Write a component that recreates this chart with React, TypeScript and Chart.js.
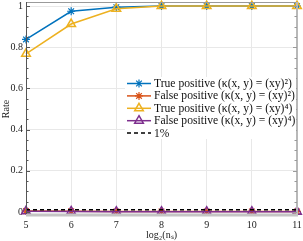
import React, { useEffect, useRef } from "react";
import { Chart, registerables } from "chart.js";
import { drawPoint } from "chart.js/helpers";

Chart.register(...registerables);

const nsLog = [5, 6, 7, 8, 9, 10, 11];
const tp2 = [0.838, 0.975, 0.995, 1, 1, 1, 1];
const fp2 = [0.004, 0.003, 0.002, 0.002, 0.002, 0.002, 0.002];
const tp4 = [0.768, 0.913, 0.987, 1, 1, 1, 1];
const fp4 = [0.003, 0.002, 0.001, 0.001, 0.001, 0.001, 0.001];
const onePct = [0.01, 0.01, 0.01, 0.01, 0.01, 0.01, 0.01];
const yTicks = [0, 0.2, 0.4, 0.6, 0.8, 1];
const labels = [
  "True positive (κ(x, y) = (xy)²)",
  "False positive (κ(x, y) = (xy)²)",
  "True positive (κ(x, y) = (xy)⁴)",
  "False positive (κ(x, y) = (xy)⁴)",
  "1%",
];

const BLUE = "#0072BD";
const ORANGE = "#D95319";
const YELLOW = "#EDB120";
const PURPLE = "#7E2F8E";
const FONT = "'Liberation Serif', serif";

const pts = (arr: number[]) => nsLog.map((x, i) => ({ x, y: arr[i] }));

const framePlugin = {
  id: "frame",
  afterDatasetsDraw(chart: any) {
    const { ctx, chartArea: a, scales } = chart;
    const y = scales.y;
    ctx.save();
    ctx.strokeStyle = "#9a9a9a";
    ctx.lineWidth = 1;
    ctx.beginPath();
    ctx.moveTo(a.left, a.top + 0.5);
    ctx.lineTo(a.right, a.top + 0.5);
    ctx.stroke();
    ctx.strokeStyle = "#b8b8b8";
    ctx.lineWidth = 2;
    ctx.beginPath();
    ctx.moveTo(a.right, a.top);
    ctx.lineTo(a.right, a.bottom);
    ctx.stroke();
    ctx.strokeStyle = "#c4c4c4";
    ctx.lineWidth = 3;
    ctx.beginPath();
    ctx.moveTo(a.left, a.bottom - 1);
    ctx.lineTo(a.right + 1, a.bottom - 1);
    ctx.stroke();
    ctx.strokeStyle = "#555";
    ctx.lineWidth = 1;
    ctx.beginPath();
    ctx.moveTo(a.left + 0.5, a.top);
    ctx.lineTo(a.left + 0.5, a.bottom - 2);
    ctx.stroke();
    for (let v = 0; v <= 1.0001; v += 0.05) {
      const py = Math.round(y.getPixelForValue(v)) + 0.5;
      const major = Math.abs(v * 5 - Math.round(v * 5)) < 1e-6;
      const len = major ? 4 : 2.5;
      ctx.strokeStyle = "#555";
      ctx.lineWidth = 1;
      ctx.beginPath();
      ctx.moveTo(a.left, py);
      ctx.lineTo(a.left + len, py);
      ctx.stroke();
      ctx.strokeStyle = "#9a9a9a";
      ctx.beginPath();
      ctx.moveTo(a.right, py);
      ctx.lineTo(a.right - len, py);
      ctx.stroke();
    }
    const lx = 125, ly = 77, lw = a.right - 1 - lx, lh = 62;
    ctx.fillStyle = "#fff";
    ctx.fillRect(lx, ly, lw, lh);
    const styles = [
      { c: BLUE, p: "star", r: 4, dash: [] as number[] },
      { c: ORANGE, p: "star", r: 4, dash: [] as number[] },
      { c: YELLOW, p: "triangle", r: 5, dash: [] as number[] },
      { c: PURPLE, p: "triangle", r: 5, dash: [] as number[] },
      { c: "#000", p: null, r: 0, dash: [4, 3] },
    ];
    ctx.font = `11.6px ${FONT}`;
    ctx.textBaseline = "middle";
    ctx.textAlign = "left";
    styles.forEach((s, i) => {
      const ry = 83.5 + i * 12.4;
      ctx.strokeStyle = s.c;
      ctx.lineWidth = 1.5;
      ctx.setLineDash(s.dash);
      ctx.beginPath();
      ctx.moveTo(127, ry);
      ctx.lineTo(151, ry);
      ctx.stroke();
      ctx.setLineDash([]);
      if (s.p) {
        ctx.fillStyle = "rgba(0,0,0,0)";
        ctx.lineWidth = s.p === "star" ? 1.2 : 1.5;
        drawPoint(ctx, { pointStyle: s.p, radius: s.r, borderWidth: ctx.lineWidth, rotation: 0 } as any, 139, ry);
      }
      ctx.fillStyle = "#111";
      ctx.fillText(labels[i], 154, ry + 0.5);
    });
    ctx.restore();
  },
};

export default function App() {
  const ref = useRef<HTMLCanvasElement>(null);
  useEffect(() => {
    document.body.style.margin = "0";
    const line = (label: string, data: number[], color: string, style: any, r: number, order: number, dash: number[] = []) => ({
      label,
      data: pts(data),
      borderColor: color,
      backgroundColor: "rgba(0,0,0,0)",
      pointBorderColor: color,
      pointBackgroundColor: "rgba(0,0,0,0)",
      pointStyle: style,
      pointRadius: r,
      pointBorderWidth: style === "star" ? 1.2 : 1.5,
      borderWidth: 1.5,
      borderDash: dash,
      tension: 0,
      clip: false,
      order,
    });
    const chart = new Chart(ref.current!, {
      type: "line",
      data: {
        datasets: [
          line(labels[0], tp2, BLUE, "star", 4, 5),
          line(labels[1], fp2, ORANGE, "star", 4, 4),
          line(labels[2], tp4, YELLOW, "triangle", 5, 3),
          line(labels[3], fp4, PURPLE, "triangle", 5, 2),
          line(labels[4], onePct, "#000", false, 0, 1, [4, 3]),
        ] as any,
      },
      plugins: [framePlugin],
      options: {
        animation: false,
        responsive: false,
        layout: { autoPadding: false, padding: { left: 0, right: 6, top: 2, bottom: 0 } },
        plugins: { legend: { display: false }, tooltip: { enabled: false } },
        scales: {
          x: {
            type: "linear",
            min: 5,
            max: 11,
            ticks: { stepSize: 1, color: "#222", font: { family: FONT, size: 10 }, padding: 3 },
            grid: { color: "#e8e8e8", drawTicks: false },
            border: { display: false },
            title: { display: true, text: "log₂(nₛ)", color: "#222", font: { family: FONT, size: 10 }, padding: { top: 0, bottom: 0 } },
            afterFit: (s: any) => { s.height = 25; s.paddingLeft = 0; s.paddingRight = 0; },
          },
          y: {
            type: "linear",
            min: -0.02,
            max: 1.02,
            afterBuildTicks: (s: any) => { s.ticks = yTicks.map((v) => ({ value: v })); },
            ticks: { color: "#222", font: { family: FONT, size: 10 }, padding: 3, callback: (v: any) => String(Math.round(v * 10) / 10) },
            grid: { color: "#e8e8e8", drawTicks: false },
            border: { display: false },
            title: { display: true, text: "Rate", color: "#222", font: { family: FONT, size: 10 }, padding: { top: 0, bottom: 0 } },
            afterFit: (s: any) => { s.width = 26; s.paddingTop = 0; s.paddingBottom = 0; },
          },
        },
      } as any,
    });
    return () => chart.destroy();
  }, []);
  return (
    <div style={{ width: 303, height: 241 }}>
      <canvas ref={ref} width={303} height={241} />
    </div>
  );
}
